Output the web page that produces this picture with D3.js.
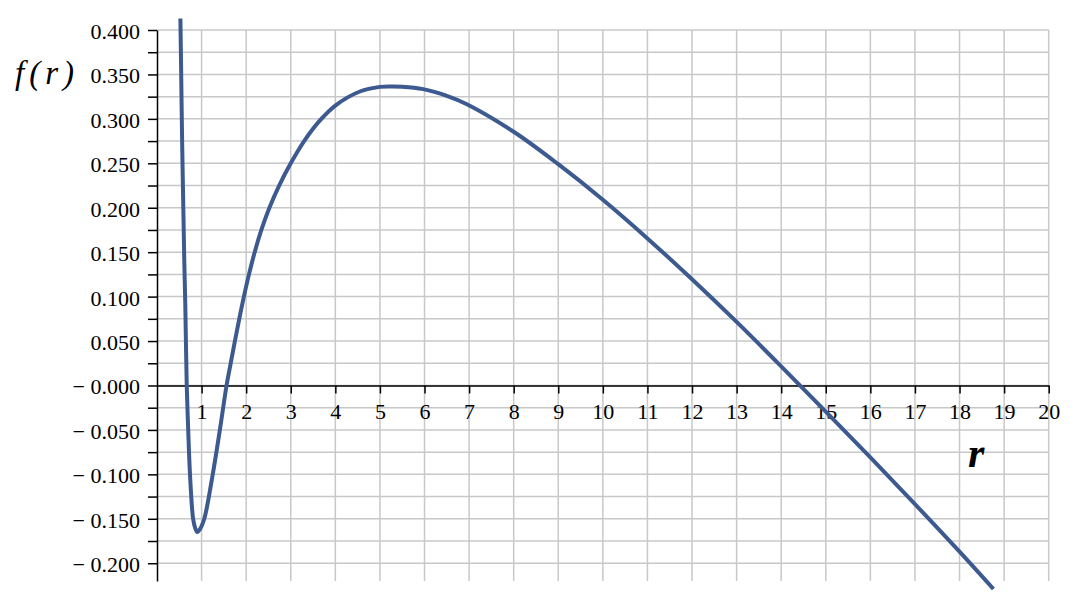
<!DOCTYPE html>
<html>
<head>
<meta charset="utf-8">
<script src="https://cdn.jsdelivr.net/npm/d3@7"></script>
<style>
  body { margin: 0; background: #fff; }
  svg text { font-family: "Liberation Serif", "Times New Roman", serif; }
</style>
</head>
<body>
<div id="app"></div>
<script>
// curve
const rValues = [0.525, 0.54, 0.565, 0.59, 0.612, 0.635, 0.667, 0.70, 0.74, 0.81, 0.86, 0.90, 0.96, 1.06, 1.25, 1.41, 1.56, 1.653, 1.747, 1.845, 1.949, 2.063, 2.191, 2.341, 2.521, 2.74, 3.0, 3.3, 3.66, 4.0, 4.55, 5.0, 5.25, 5.5, 5.97, 6.5, 6.95, 8.0, 9.0, 10.0, 11.0, 12.0, 13.0, 14.0, 15.0, 16.0, 17.0, 18.0, 18.76];
const fValues = [0.413, 0.36, 0.27, 0.20, 0.14, 0.09, 0.0, -0.05, -0.10, -0.15, -0.161, -0.165, -0.162, -0.15, -0.10, -0.05, 0.0, 0.025, 0.05, 0.075, 0.10, 0.125, 0.15, 0.175, 0.20, 0.225, 0.25, 0.275, 0.2985, 0.315, 0.3308, 0.336, 0.3365, 0.3362, 0.3335, 0.326, 0.3165, 0.2855, 0.249, 0.209, 0.1655, 0.1195, 0.0715, 0.0215, -0.0295, -0.081, -0.1335, -0.187, -0.229];

const xTickValues = d3.range(1, 21);
const xTickLabels = xTickValues.map(String);
const yTickValues = [0.4, 0.35, 0.3, 0.25, 0.2, 0.15, 0.1, 0.05, 0, -0.05, -0.1, -0.15, -0.2];
const yTickLabels = ["0.400", "0.350", "0.300", "0.250", "0.200", "0.150", "0.100", "0.050", "\u2212 0.000", "\u2212 0.050", "\u2212 0.100", "\u2212 0.150", "\u2212 0.200"];
const yGridValues = d3.range(-8, 17).map(i => i * 0.025);

const width = 1080;
const height = 593;
const serif = "Liberation Serif";

const svg = d3.select("#app")
    .append("svg")
    .attr("width", width)
    .attr("height", height);

const xScale = d3.scaleLinear().domain([0, 20]).range([157, 1048.7]);
const yScale = d3.scaleLinear().domain([-0.22, 0.4]).range([581, 30]);

const gridColor = "#c8c8c8";

// grid
svg.append("g")
    .selectAll("line")
    .data(xTickValues)
    .enter()
    .append("line")
    .attr("x1", d => xScale(d))
    .attr("x2", d => xScale(d))
    .attr("y1", yScale(0.4))
    .attr("y2", yScale(-0.22))
    .attr("stroke", gridColor)
    .attr("stroke-width", 1.5);

svg.append("g")
    .selectAll("line")
    .data(yGridValues)
    .enter()
    .append("line")
    .attr("x1", xScale(0))
    .attr("x2", xScale(20))
    .attr("y1", d => yScale(d))
    .attr("y2", d => yScale(d))
    .attr("stroke", gridColor)
    .attr("stroke-width", 1.5);

// axes
const xAxis = svg.append("g")
    .attr("transform", `translate(0,${yScale(0)})`)
    .call(d3.axisBottom(xScale).tickValues(xTickValues).tickFormat((d, i) => xTickLabels[i]).tickSize(8).tickSizeOuter(0));
xAxis.select(".domain").attr("stroke", "#000").attr("stroke-width", 1.5);
xAxis.selectAll(".tick line").attr("stroke", "#000").attr("stroke-width", 1.5);
xAxis.selectAll(".tick text")
    .attr("font-family", serif)
    .attr("font-size", 22)
    .attr("fill", "#000")
    .attr("y", 34)
    .attr("dy", null);

const yAxis = svg.append("g")
    .attr("transform", `translate(${xScale(0)},0)`)
    .call(d3.axisLeft(yScale).tickValues(yGridValues).tickFormat(() => "").tickSize(9).tickSizeOuter(0));
yAxis.select(".domain").attr("stroke", "#000").attr("stroke-width", 1.5);
yAxis.selectAll(".tick line").attr("stroke", "#000").attr("stroke-width", 1.5);

svg.append("g")
    .selectAll("text")
    .data(yTickValues)
    .enter()
    .append("text")
    .attr("x", 140)
    .attr("y", d => yScale(d) + 9)
    .attr("text-anchor", "end")
    .attr("font-family", serif)
    .attr("font-size", 22)
    .attr("fill", "#000")
    .text((d, i) => yTickLabels[i]);

// curve
const points = rValues.map((r, i) => ({ r, f: fValues[i] }));
const line = d3.line()
    .x(d => xScale(d.r))
    .y(d => yScale(d.f))
    .curve(d3.curveCatmullRom.alpha(0.5));

svg.append("path")
    .datum(points)
    .attr("fill", "none")
    .attr("stroke", "#3c5a8f")
    .attr("stroke-width", 4)
    .attr("stroke-linejoin", "round")
    .attr("d", line);

// axis labels
svg.append("text")
    .attr("x", 15)
    .attr("y", 84)
    .attr("font-family", serif)
    .attr("font-size", 33)
    .attr("font-style", "italic")
    .attr("letter-spacing", 5)
    .text("f(r)");

svg.append("text")
    .attr("x", 968)
    .attr("y", 467)
    .attr("font-family", serif)
    .attr("font-size", 42)
    .attr("font-style", "italic")
    .attr("font-weight", "bold")
    .text("r");
</script>
</body>
</html>
